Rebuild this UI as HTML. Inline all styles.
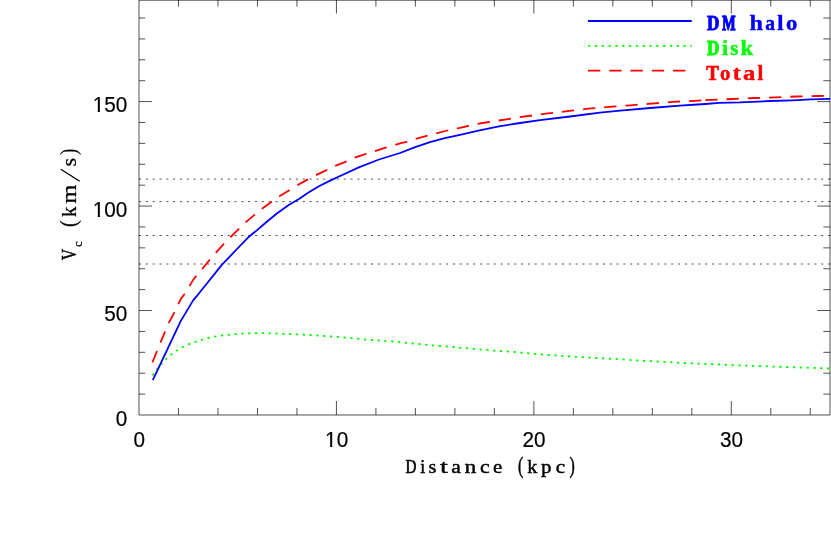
<!DOCTYPE html>
<html><head><meta charset="utf-8"><title>Rotation curve</title>
<style>
html,body{margin:0;padding:0;background:#fff;}
body{width:831px;height:554px;overflow:hidden;font-family:"Liberation Sans",sans-serif;}
svg{display:block;will-change:transform;}

</style></head><body>
<svg width="831" height="554" viewBox="0 0 831 554">
<rect width="831" height="554" fill="#fff"/>
<line x1="139.0" y1="179.10" x2="830.4" y2="179.10" stroke="#000" stroke-width="0.68" stroke-dasharray="2.1 4.722" />
<line x1="139.0" y1="201.60" x2="830.4" y2="201.60" stroke="#000" stroke-width="0.68" stroke-dasharray="2.1 4.722" />
<line x1="139.0" y1="235.50" x2="830.4" y2="235.50" stroke="#000" stroke-width="0.68" stroke-dasharray="2.1 4.722" />
<line x1="139.0" y1="264.00" x2="830.4" y2="264.00" stroke="#000" stroke-width="0.68" stroke-dasharray="2.1 4.722" />
<path d="M139.00 0V415.00H830.00V0" stroke="#000" stroke-width="0.68" fill="none"/>
<line x1="139.0" y1="0.22" x2="830.0" y2="0.22" stroke="#000" stroke-width="0.68" fill="none"/>
<path d="M178.49 415.00v-7.00M178.49 0v6.60M217.97 415.00v-7.00M217.97 0v6.60M257.46 415.00v-7.00M257.46 0v6.60M296.94 415.00v-7.00M296.94 0v6.60M336.43 415.00v-14.00M336.43 0v13.60M375.92 415.00v-7.00M375.92 0v6.60M415.40 415.00v-7.00M415.40 0v6.60M454.89 415.00v-7.00M454.89 0v6.60M494.37 415.00v-7.00M494.37 0v6.60M533.86 415.00v-14.00M533.86 0v13.60M573.35 415.00v-7.00M573.35 0v6.60M612.83 415.00v-7.00M612.83 0v6.60M652.32 415.00v-7.00M652.32 0v6.60M691.80 415.00v-7.00M691.80 0v6.60M731.29 415.00v-14.00M731.29 0v13.60M770.78 415.00v-7.00M770.78 0v6.60M810.26 415.00v-7.00M810.26 0v6.60M139.00 394.11h6.20M830.00 394.11h-6.70M139.00 373.21h6.20M830.00 373.21h-6.70M139.00 352.32h6.20M830.00 352.32h-6.70M139.00 331.43h6.20M830.00 331.43h-6.70M139.00 310.53h13.00M830.00 310.53h-12.80M139.00 289.64h6.20M830.00 289.64h-6.70M139.00 268.75h6.20M830.00 268.75h-6.70M139.00 247.86h6.20M830.00 247.86h-6.70M139.00 226.96h6.20M830.00 226.96h-6.70M139.00 206.07h13.00M830.00 206.07h-12.80M139.00 185.18h6.20M830.00 185.18h-6.70M139.00 164.28h6.20M830.00 164.28h-6.70M139.00 143.39h6.20M830.00 143.39h-6.70M139.00 122.50h6.20M830.00 122.50h-6.70M139.00 101.60h13.00M830.00 101.60h-12.80M139.00 80.71h6.20M830.00 80.71h-6.70M139.00 59.82h6.20M830.00 59.82h-6.70M139.00 38.93h6.20M830.00 38.93h-6.70M139.00 18.03h6.20M830.00 18.03h-6.70" stroke="#000" stroke-width="0.68" fill="none"/>
<polyline points="152.5,375.4 153.1,374.5 157.6,368.2 162.1,363.1 167.0,358.2 171.5,354.3 176.9,350.6 182.9,347.0 188.6,344.3 195.0,342.0 201.6,339.8 208.1,338.0 214.8,336.6 221.7,335.5 228.7,334.8 235.9,334.1 242.2,333.6 256.0,333.1 269.9,333.3 290.4,334.1 310.8,335.0 331.3,336.5 351.7,338.2 372.2,340.1 392.7,341.5 413.1,343.5 432.6,345.3 453.1,347.0 473.5,348.9 494.0,350.6 514.4,352.0 534.9,353.9 555.4,355.4 575.8,356.8 596.3,358.0 616.7,359.0 631.0,360.1 657.5,361.5 684.0,363.0 711.6,364.2 739.3,365.4 765.8,366.3 794.7,367.3 829.9,368.5" fill="none" stroke="#00ff00" stroke-width="1.8" stroke-dasharray="2.3 4.525"/>
<polyline points="152.8,380.2 180.7,321.1 193.3,300.1 197.8,294.8 207.5,282.8 221.6,265.1 230.0,256.4 236.0,250.0 248.3,237.3 257.1,230.1 265.0,223.2 276.8,213.5 289.1,204.8 299.0,198.9 308.1,192.8 318.9,186.3 331.2,180.1 345.0,173.7 358.8,167.4 379.0,159.5 400.0,153.0 415.2,147.1 430.0,142.1 444.8,138.1 460.0,134.8 479.5,130.3 499.0,126.3 520.0,123.0 540.0,120.1 570.0,116.5 600.0,112.7 620.0,110.6 650.0,108.0 680.0,105.6 705.3,104.0 719.0,102.9 740.0,102.4 770.0,101.0 792.7,100.3 810.7,99.4 830.0,98.9" fill="none" stroke="#0000ff" stroke-width="1.8" stroke-linejoin="round"/>
<polyline points="152.4,362.4 156.8,351.5 160.6,342.3 164.9,332.0 168.8,322.9 174.2,312.7 178.5,303.7 181.0,298.7 184.3,294.3 189.5,286.1 193.1,279.9 196.0,276.3 202.3,268.9 209.5,260.0 215.8,252.8 223.8,243.8 230.3,237.3 238.6,229.2 245.6,222.3 254.4,214.9 262.0,208.8 271.0,202.3 279.4,196.3 288.9,190.5 297.3,185.3 307.4,179.6 315.7,175.2 326.5,170.1 334.8,166.1 345.4,161.8 354.8,157.7 365.3,154.1 374.7,151.2 385.5,147.6 394.9,144.9 400.0,143.4 406.5,141.9 415.2,139.0 426.7,135.9 435.7,133.4 447.3,130.5 456.3,128.4 460.0,127.8 467.9,126.0 477.2,124.0 488.9,122.0 498.1,120.6 509.8,118.8 518.8,117.3 545.8,113.6 567.1,111.2 588.0,108.7 609.0,106.9 630.5,105.3 651.4,103.6 672.7,101.9 693.9,100.8 702.0,100.4" fill="none" stroke="#ff0000" stroke-width="1.8" stroke-dasharray="12.3 8.97"/>
<polyline points="705.3,100.2 711.4,99.8 732.9,99.0 753.7,98.0 775.4,97.4 796.4,96.5 817.8,96.0 830.0,95.8" fill="none" stroke="#ff0000" stroke-width="1.8" stroke-dasharray="12.3 8.97"/>
<line x1="587.9" y1="21" x2="691.7" y2="21" stroke="#0000ff" stroke-width="1.8"/>
<line x1="588.0" y1="45.9" x2="691.8" y2="45.9" stroke="#00ff00" stroke-width="1.8" stroke-dasharray="2.3 4.525"/>
<line x1="588.0" y1="70.65" x2="691.7" y2="70.65" stroke="#ff0000" stroke-width="1.8" stroke-dasharray="12.3 8.97"/>
<g font-family="Liberation Serif" font-weight="bold" fill="#0000ff"><text transform="translate(707.05 30.20) scale(0.808 1)" font-size="21.2" stroke="#0000ff" stroke-width="0.90" vector-effect="non-scaling-stroke" stroke-linejoin="round">D</text><text transform="translate(722.25 30.20) scale(0.667 1)" font-size="21.2" stroke="#0000ff" stroke-width="1.10" vector-effect="non-scaling-stroke" stroke-linejoin="round">M</text><text transform="translate(749.50 30.20) scale(1.140 1)" font-size="21.2" stroke="#0000ff" stroke-width="0.40" vector-effect="non-scaling-stroke" stroke-linejoin="round">h</text><text transform="translate(765.20 30.20) scale(0.925 1)" font-size="21.2" stroke="#0000ff" stroke-width="0.40" vector-effect="non-scaling-stroke" stroke-linejoin="round">a</text><text transform="translate(777.20 30.20) scale(1.058 1)" font-size="21.2" stroke="#0000ff" stroke-width="0.40" vector-effect="non-scaling-stroke" stroke-linejoin="round">l</text><text transform="translate(785.90 30.20) scale(1.075 1)" font-size="21.2" stroke="#0000ff" stroke-width="0.40" vector-effect="non-scaling-stroke" stroke-linejoin="round">o</text></g>
<g font-family="Liberation Serif" font-weight="bold" fill="#00ff00"><text transform="translate(707.05 54.70) scale(0.808 1)" font-size="21.2" stroke="#00ff00" stroke-width="0.90" vector-effect="non-scaling-stroke" stroke-linejoin="round">D</text><text transform="translate(721.90 54.70) scale(1.058 1)" font-size="21.2" stroke="#00ff00" stroke-width="0.40" vector-effect="non-scaling-stroke" stroke-linejoin="round">i</text><text transform="translate(730.30 54.70) scale(0.972 1)" font-size="21.2" stroke="#00ff00" stroke-width="0.40" vector-effect="non-scaling-stroke" stroke-linejoin="round">s</text><text transform="translate(740.50 54.70) scale(1.064 1)" font-size="21.2" stroke="#00ff00" stroke-width="0.40" vector-effect="non-scaling-stroke" stroke-linejoin="round">k</text></g>
<g font-family="Liberation Serif" font-weight="bold" fill="#ff0000"><text transform="translate(706.35 79.60) scale(0.894 1)" font-size="21.2" stroke="#ff0000" stroke-width="0.70" vector-effect="non-scaling-stroke" stroke-linejoin="round">T</text><text transform="translate(720.10 79.60) scale(0.981 1)" font-size="21.2" stroke="#ff0000" stroke-width="0.40" vector-effect="non-scaling-stroke" stroke-linejoin="round">o</text><text transform="translate(732.70 79.60) scale(1.125 1)" font-size="21.2" stroke="#ff0000" stroke-width="0.40" vector-effect="non-scaling-stroke" stroke-linejoin="round">t</text><text transform="translate(742.90 79.60) scale(1.160 1)" font-size="21.2" stroke="#ff0000" stroke-width="0.40" vector-effect="non-scaling-stroke" stroke-linejoin="round">a</text><text transform="translate(757.40 79.60) scale(0.990 1)" font-size="21.2" stroke="#ff0000" stroke-width="0.40" vector-effect="non-scaling-stroke" stroke-linejoin="round">l</text></g>
<g font-family="Liberation Serif" font-weight="normal" fill="#000"><text transform="translate(405.52 472.80) scale(0.775 1)" font-size="19.5" stroke="#000" stroke-width="0.65" vector-effect="non-scaling-stroke" stroke-linejoin="round">D</text><text transform="translate(420.33 472.80) scale(0.921 1)" font-size="19.5" stroke="#000" stroke-width="0.45" vector-effect="non-scaling-stroke" stroke-linejoin="round">i</text><text transform="translate(428.62 472.80) scale(1.030 1)" font-size="19.5" stroke="#000" stroke-width="0.45" vector-effect="non-scaling-stroke" stroke-linejoin="round">s</text><text transform="translate(440.12 472.80) scale(1.460 1)" font-size="19.5" stroke="#000" stroke-width="0.45" vector-effect="non-scaling-stroke" stroke-linejoin="round">t</text><text transform="translate(451.33 472.80) scale(1.107 1)" font-size="19.5" stroke="#000" stroke-width="0.45" vector-effect="non-scaling-stroke" stroke-linejoin="round">a</text><text transform="translate(464.43 472.80) scale(1.215 1)" font-size="19.5" stroke="#000" stroke-width="0.45" vector-effect="non-scaling-stroke" stroke-linejoin="round">n</text><text transform="translate(480.03 472.80) scale(1.119 1)" font-size="19.5" stroke="#000" stroke-width="0.45" vector-effect="non-scaling-stroke" stroke-linejoin="round">c</text><text transform="translate(493.03 472.80) scale(1.072 1)" font-size="19.5" stroke="#000" stroke-width="0.45" vector-effect="non-scaling-stroke" stroke-linejoin="round">e</text><text transform="translate(517.93 472.80) scale(0.713 1)" font-size="22.2" stroke="#000" stroke-width="0.45" vector-effect="non-scaling-stroke" stroke-linejoin="round">(</text><text transform="translate(527.23 472.80) scale(1.031 1)" font-size="19.5" stroke="#000" stroke-width="0.45" vector-effect="non-scaling-stroke" stroke-linejoin="round">k</text><text transform="translate(540.93 472.80) scale(1.072 1)" font-size="19.5" stroke="#000" stroke-width="0.45" vector-effect="non-scaling-stroke" stroke-linejoin="round">p</text><text transform="translate(555.73 472.80) scale(1.084 1)" font-size="19.5" stroke="#000" stroke-width="0.45" vector-effect="non-scaling-stroke" stroke-linejoin="round">c</text><text transform="translate(569.52 472.80) scale(0.713 1)" font-size="22.2" stroke="#000" stroke-width="0.45" vector-effect="non-scaling-stroke" stroke-linejoin="round">)</text></g>
<g font-family="Liberation Serif" font-weight="normal" fill="#000"><text transform="translate(75.90 260.35) rotate(-90) scale(0.793 1)" font-size="20.0" stroke="#000" stroke-width="0.50" vector-effect="non-scaling-stroke" stroke-linejoin="round">V</text><text transform="translate(82.30 246.88) rotate(-90) scale(1.045 1)" font-size="12.5" stroke="#000" stroke-width="0.25" vector-effect="non-scaling-stroke" stroke-linejoin="round">c</text><text transform="translate(75.90 226.97) rotate(-90) scale(0.904 1)" font-size="22.2" stroke="#000" stroke-width="0.25" vector-effect="non-scaling-stroke" stroke-linejoin="round">(</text><text transform="translate(75.90 216.88) rotate(-90) scale(1.045 1)" font-size="20.0" stroke="#000" stroke-width="0.25" vector-effect="non-scaling-stroke" stroke-linejoin="round">k</text><text transform="translate(75.90 203.68) rotate(-90) scale(1.229 1)" font-size="20.0" stroke="#000" stroke-width="0.25" vector-effect="non-scaling-stroke" stroke-linejoin="round">m</text><text transform="translate(75.90 166.38) rotate(-90) scale(1.103 1)" font-size="20.0" stroke="#000" stroke-width="0.25" vector-effect="non-scaling-stroke" stroke-linejoin="round">s</text><text transform="translate(75.90 154.78) rotate(-90) scale(0.795 1)" font-size="22.2" stroke="#000" stroke-width="0.25" vector-effect="non-scaling-stroke" stroke-linejoin="round">)</text></g>
<line x1="60.8" y1="169.3" x2="79.7" y2="181.2" stroke="#000" stroke-width="1.25"/>
<g font-family="Liberation Sans" font-size="22.3" fill="#000" stroke="#000" stroke-width="0.2"><g transform="translate(139.20 447.00) scale(0.930 1)"><text text-anchor="middle">0</text></g><g transform="translate(336.63 447.00) scale(0.930 1)"><text text-anchor="middle">10</text><rect x="-11.96" y="-2.63" width="4.96" height="3.57" fill="#fff" stroke="none"/><rect x="-4.65" y="-2.63" width="5.22" height="3.57" fill="#fff" stroke="none"/></g><g transform="translate(534.06 447.00) scale(0.930 1)"><text text-anchor="middle">20</text></g><g transform="translate(731.49 447.00) scale(0.930 1)"><text text-anchor="middle">30</text></g><g transform="translate(127.30 425.70) scale(0.930 1)"><text text-anchor="end">0</text></g><g transform="translate(127.30 321.23) scale(0.930 1)"><text text-anchor="end">50</text></g><g transform="translate(127.30 216.77) scale(0.930 1)"><text text-anchor="end">100</text><rect x="-36.76" y="-2.63" width="4.96" height="3.57" fill="#fff" stroke="none"/><rect x="-29.45" y="-2.63" width="5.22" height="3.57" fill="#fff" stroke="none"/></g><g transform="translate(127.30 112.30) scale(0.930 1)"><text text-anchor="end">150</text><rect x="-36.76" y="-2.63" width="4.96" height="3.57" fill="#fff" stroke="none"/><rect x="-29.45" y="-2.63" width="5.22" height="3.57" fill="#fff" stroke="none"/></g></g>
</svg>
</body></html>
